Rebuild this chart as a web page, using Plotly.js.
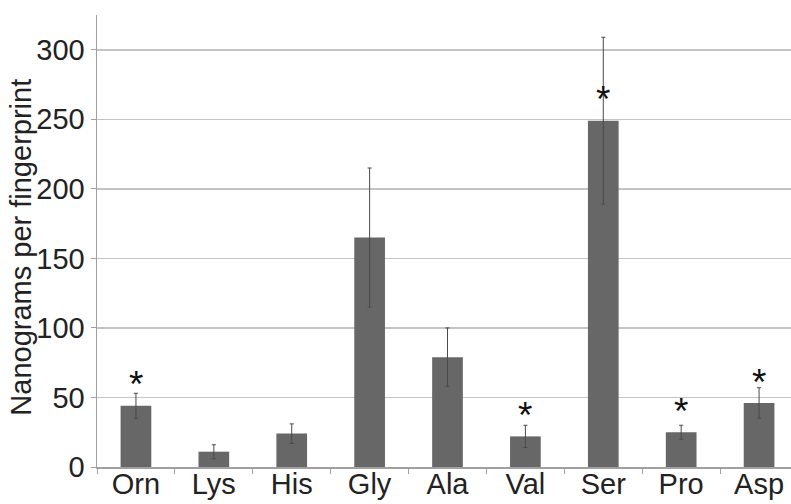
<!DOCTYPE html>
<html>
<head>
<meta charset="utf-8">
<script src="https://cdn.plot.ly/plotly-3.0.1.min.js"></script>
<style>html,body{margin:0;padding:0;background:#fff;}#chart{width:791px;height:504px;}</style>
</head>
<body>
<div id="chart"></div>
<script>
const categories = ["Orn", "Lys", "His", "Gly", "Ala", "Val", "Ser", "Pro", "Asp"];
const values = [44, 11, 24, 165, 79, 22, 249, 25, 46];
const errors = [9, 5, 7, 50, 21, 8, 60, 5, 11];
const significant = [true, false, false, false, false, true, true, true, true];
const yTicks = [0, 50, 100, 150, 200, 250, 300];
const yTitle = "Nanograms per fingerprint";

const font = "Liberation Sans, Arial, sans-serif";

const trace = {
  type: "bar",
  x: categories,
  y: values,
  marker: {color: "#676767", line: {width: 0}},
  error_y: {type: "data", array: errors, visible: true, color: "#4a4a4a", thickness: 1, width: 2},
  hoverinfo: "none"
};

const annotations = [];
categories.forEach((c, i) => {
  if (significant[i]) {
    annotations.push({
      x: c, y: values[i], xref: "x", yref: "y",
      text: "*", showarrow: false, yanchor: "middle", yshift: 21,
      font: {family: font, size: 37, color: "#111"}
    });
  }
});
annotations.push({
  xref: "paper", yref: "paper", x: -0.109, y: 0.486,
  xanchor: "center", yanchor: "middle", textangle: -90,
  text: yTitle, showarrow: false,
  font: {family: font, size: 29, color: "#222"}
});

const layout = {
  width: 791, height: 504,
  margin: {l: 97, r: 0, t: 15, b: 37, pad: 0},
  paper_bgcolor: "#fff", plot_bgcolor: "#fff",
  showlegend: false,
  bargap: 0.606,
  font: {family: font, size: 29, color: "#222"},
  xaxis: {
    type: "category",
    range: [-0.5, 8.41],
    tickson: "boundaries",
    ticks: "outside", ticklen: 5, tickcolor: "#a0a0a0", tickwidth: 1,
    ticklabelstandoff: -9,
    showline: true, linecolor: "#a0a0a0", linewidth: 1.5,
    showgrid: false, zeroline: false,
    tickfont: {family: font, size: 29, color: "#222"}
  },
  yaxis: {
    range: [0, 325],
    tickvals: yTicks,
    ticks: "outside", ticklen: 5, tickcolor: "#a0a0a0", tickwidth: 1,
    showline: true, linecolor: "#a0a0a0", linewidth: 1.5,
    showgrid: true, gridcolor: "#c4c4c4", gridwidth: 1.5,
    zeroline: false,
    tickfont: {family: font, size: 29, color: "#222"}
  },
  annotations: annotations
};

Plotly.newPlot("chart", [trace], layout, {displayModeBar: false, staticPlot: true});
</script>
</body>
</html>
